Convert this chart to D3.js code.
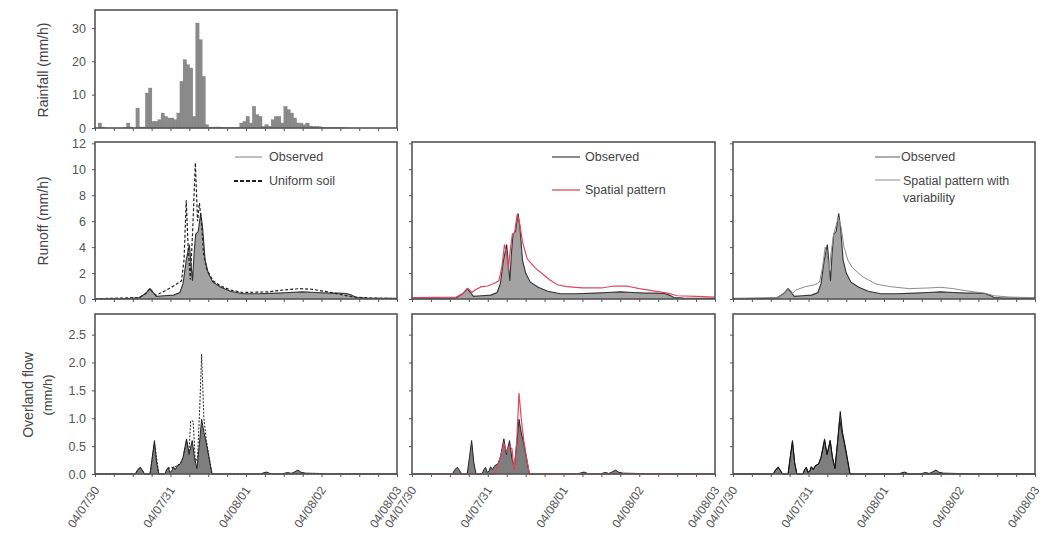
<!DOCTYPE html>
<html><head><meta charset="utf-8">
<script src="https://cdn.jsdelivr.net/npm/d3@7"></script>
<style>body{margin:0;background:#fff}svg{display:block;font-family:"Liberation Sans",Arial,sans-serif}</style>
</head><body><svg id="c" width="1046" height="539"></svg>
<script>
// ---------- DATA ----------
const dateLabels = ["04/07/30","04/07/31","04/08/01","04/08/02","04/08/03"];
const dayHours = [0,24,48,72,96];
const rainTicks = [0,10,20,30];
const runoffTicks = [0,2,4,6,8,10,12];
const overlandTicks = [0,0.5,1.0,1.5,2.0,2.5];

// hourly rainfall (mm/h), hour 0..95
const rainfall = [0,1.5,0.3,0,0,0,0,0,0,0.2,1.5,0.3,0,6,0.3,0.3,10.5,12,2,2,2.5,4.5,3.5,3,3,2.5,4.5,14,20.5,19,18,3.5,31.5,26.5,15.5,1,0.3,0.3,0.3,0.3,0.2,0.1,0.1,0.1,0.1,0.1,1.5,2,3.5,1.5,6.5,4,3.5,0.5,1,0.5,2.5,3.5,3.5,1.5,6.5,5.5,4.5,3,1.5,1.5,1,1.5,0.6,0.5,0.5,0.4,0.2,0.1,0.1,0.1,0.1,0.1,0.1,0.1,0,0,0,0,0,0,0,0,0,0,0,0,0,0,0,0];

// runoff (mm/h) as [hour, value]
const runoffObserved = [[0,0.02],[10,0.03],[14,0.1],[16,0.4],[17.5,0.8],[18.5,0.5],[19.5,0.2],[22,0.25],[25,0.3],[27,0.5],[28,1.2],[29,3.0],[30,4.2],[30.6,2.5],[31,1.4],[31.5,3.5],[32,5.0],[32.8,5.2],[33.6,6.6],[34.2,5.5],[35,3.0],[36,2.0],[37.5,1.3],[40,0.9],[43,0.6],[47,0.4],[52,0.4],[58,0.45],[62,0.5],[66,0.55],[70,0.5],[74,0.45],[77,0.45],[80,0.42],[81.5,0.3],[83,0.12],[86,0.08],[96,0.05]];
const runoffUniform = [[0,0.02],[14,0.1],[16,0.4],[17.5,0.8],[18.5,0.45],[19.5,0.3],[22,0.6],[25,1.0],[27.5,1.4],[28.3,3],[29,7.6],[29.6,4],[30.3,1.5],[31,5],[31.9,10.5],[32.6,6],[33.2,7.4],[33.8,6],[34.5,3.5],[35.5,2.3],[37.5,1.4],[40,1.0],[43,0.7],[47,0.5],[55,0.55],[60,0.7],[65,0.8],[69,0.75],[74,0.55],[78,0.35],[81,0.2],[84,0.12],[90,0.06],[96,0.03]];
const runoffSpatial = [[0,0.1],[14,0.15],[16,0.4],[17.8,0.8],[19,0.5],[20,0.7],[22,0.95],[24,1.0],[26,1.2],[27.5,1.4],[28.5,2.5],[29.3,4.2],[30,3.5],[30.5,2.2],[31,3.5],[31.8,5.0],[32.5,5.1],[33.3,6.5],[34,6.0],[35,4.4],[36.5,3.1],[39,2.4],[41,2.0],[43.5,1.5],[46,1.1],[49,0.95],[54,0.85],[60,0.85],[64,1.0],[68,1.0],[72,0.8],[77,0.6],[81,0.45],[84,0.25],[90,0.2],[96,0.15]];
const runoffVariab = [[0,0.05],[14,0.12],[16,0.4],[17.8,0.8],[19,0.45],[20,0.7],[23,0.95],[26,1.1],[27.5,1.3],[28.5,2.5],[29.3,4.0],[30,3.3],[30.6,2.2],[31.2,3.6],[32,5.0],[33.5,6.3],[34.3,5.6],[35.3,4.0],[36.5,3.0],[38,2.4],[41.3,1.7],[45.5,1.15],[50,0.95],[56,0.8],[62,0.85],[66,0.9],[70,0.8],[75,0.6],[80,0.45],[83,0.25],[88,0.15],[96,0.1]];

// overland flow (mm/h) as [hour, value]
const overlandObserved = [[0,0],[12.8,0],[13.6,0.08],[14.4,0.12],[15.2,0.05],[15.8,0],[17.5,0],[18.2,0.3],[18.9,0.6],[19.6,0.2],[20.3,0],[22.2,0],[22.8,0.08],[23.3,0.12],[23.8,0.03],[24.4,0.05],[24.9,0.13],[25.5,0.08],[26.2,0.15],[27.2,0.18],[28,0.3],[29.1,0.63],[29.9,0.35],[30.9,0.6],[31.6,0.3],[32.4,0.1],[33.2,0.55],[33.9,0.98],[34.6,0.75],[35.4,0.55],[36.2,0.3],[37.2,0],[52.5,0],[53.5,0.02],[54.5,0.035],[55.6,0.01],[56.5,0],[59.8,0],[60.6,0.02],[61.5,0.025],[62.3,0.01],[63.2,0.03],[64.5,0.07],[65.5,0.03],[67,0.015],[71,0.01],[74,0],[96,0]];
const overlandUniform = [[0,0],[12.8,0],[14.4,0.12],[15.8,0],[17.5,0],[18.9,0.55],[20.3,0],[22.2,0],[22.8,0.08],[23.3,0.1],[24.9,0.12],[26.2,0.15],[27.2,0.2],[28,0.3],[29.1,0.6],[29.9,0.4],[30.4,0.95],[31.2,0.95],[31.9,0.2],[32.6,0.3],[33.3,1.2],[33.9,2.15],[34.6,1.0],[35.4,0.6],[36.3,0.3],[37.2,0],[96,0]];
const overlandSpatial = [[0,0],[26.2,0],[27.2,0.15],[28,0.3],[29.1,0.55],[30,0.4],[30.9,0.5],[31.7,0.45],[32.3,0.05],[33.2,0.6],[33.9,1.45],[34.6,1.0],[35.4,0.6],[36.3,0.3],[37.2,0],[96,0]];
const overlandVariab = [[0,0],[12.8,0],[13.6,0.08],[14.4,0.12],[15.2,0.05],[15.8,0],[17.5,0],[18.2,0.3],[18.9,0.58],[19.6,0.2],[20.3,0],[22.2,0],[22.8,0.08],[23.3,0.12],[23.8,0.03],[24.4,0.05],[24.9,0.13],[25.5,0.08],[26.2,0.15],[27.2,0.18],[28,0.3],[29.1,0.6],[29.9,0.35],[30.9,0.6],[31.6,0.3],[32.4,0.1],[33.3,0.6],[34.1,1.12],[34.8,0.75],[35.5,0.55],[36.3,0.3],[37.2,0],[96,0]];

// ---------- LAYOUT ----------
const svg = d3.select("#c");
const cols = [[95,397],[412,715],[733,1035]];
const rows = {rain:[10,128], runoff:[142,299], over:[314,474]};
const tickCol = "#555", frameCol = "#555";

function xScale(c){ return d3.scaleLinear().domain([0,96]).range(cols[c]); }

function frame(c, row, yDom, yTicks, labels, fmt){
  const x = xScale(c);
  const y = d3.scaleLinear().domain(yDom).range([rows[row][1], rows[row][0]]);
  const g = svg.append("g");
  const ya = d3.axisLeft(y).tickValues(yTicks).tickSize(3).tickPadding(6)
     .tickFormat(labels ? (fmt || d3.format("d")) : "");
  const gy = g.append("g").attr("transform",`translate(${cols[c][0]},0)`).call(ya);
  const xa = d3.axisBottom(x).tickValues(d3.range(0,97,6)).tickSize(3).tickFormat("");
  const gx = g.append("g").attr("transform",`translate(0,${rows[row][1]})`).call(xa);
  [gy,gx].forEach(a=>{a.select(".domain").remove();a.selectAll("line").attr("stroke",tickCol);
     a.selectAll("text").attr("fill","#555").style("font-size","12.5px");});
  return {g,x,y};
}
function box(c,row){
  svg.append("rect").attr("x",cols[c][0]).attr("y",rows[row][0])
    .attr("width",cols[c][1]-cols[c][0]).attr("height",rows[row][1]-rows[row][0])
    .attr("fill","none").attr("stroke",frameCol).attr("stroke-width",1.6);
}

// ---------- RAINFALL ----------
{
  const p = frame(0,"rain",[0,35.4],rainTicks,true);
  p.g.selectAll("rect.bar").data(rainfall).join("rect").attr("class","bar")
    .attr("x",(d,i)=>p.x(i)).attr("width",(d,i)=>p.x(i+1)-p.x(i)+0.3)
    .attr("y",d=>p.y(d)).attr("height",d=>p.y(0)-p.y(d))
    .attr("fill","#8a8a8a").attr("stroke","#7a7a7a").attr("stroke-width",0.3);
  box(0,"rain");
}

const line = (p)=>d3.line().x(d=>p.x(d[0])).y(d=>p.y(d[1]));
const area = (p)=>d3.area().x(d=>p.x(d[0])).y0(p.y(0)).y1(d=>p.y(d[1]));

// ---------- RUNOFF ----------
const runSims = [
  {data:runoffUniform, stroke:"#222", w:1.2, dash:"3,2"},
  {data:runoffSpatial, stroke:"#e0475c", w:1.2, dash:null},
  {data:runoffVariab, stroke:"#8c8c8c", w:1, dash:null}
];
runSims.forEach((s,c)=>{
  const p = frame(c,"runoff",[0,12.1],runoffTicks,c===0);
  p.g.append("path").datum(runoffObserved).attr("d",area(p)).attr("fill","#a3a3a3");
  p.g.append("path").datum(runoffObserved).attr("d",line(p)).attr("fill","none").attr("stroke","#333").attr("stroke-width",1.1);
  p.g.append("path").datum(s.data).attr("d",line(p)).attr("fill","none").attr("stroke",s.stroke)
    .attr("stroke-width",s.w).attr("stroke-dasharray",s.dash);
  box(c,"runoff");
});

// legends
function legend(x1,x2,y,stroke,dash,w){
  svg.append("line").attr("x1",x1).attr("x2",x2).attr("y1",y).attr("y2",y)
    .attr("stroke",stroke).attr("stroke-width",w).attr("stroke-dasharray",dash);
}
function ltext(x,y,t){ svg.append("text").attr("x",x).attr("y",y).attr("dy","0.35em")
  .attr("fill","#444").style("font-size","12.5px").text(t); }
legend(235,262,157,"#aaa",null,1.5); ltext(269,157,"Observed");
legend(234,262,181,"#222","4,2",2.2); ltext(269,181,"Uniform soil");
legend(552,580,157,"#666",null,1.5); ltext(585,157,"Observed");
legend(552,580,190,"#e0475c",null,1.3); ltext(585,190,"Spatial pattern");
legend(875,900,157,"#777",null,1.2); ltext(901,157,"Observed");
legend(875,900,180,"#8c8c8c",null,1); ltext(903,181,"Spatial pattern with"); ltext(903,198,"variability");

// ---------- OVERLAND ----------
const overSims = [
  {data:overlandUniform, stroke:"#222", w:1, dash:"2,1.5"},
  {data:overlandSpatial, stroke:"#e0475c", w:1.2, dash:null},
  {data:overlandVariab, stroke:"#111", w:1, dash:null}
];
overSims.forEach((s,c)=>{
  const p = frame(c,"over",[0,2.87],overlandTicks,c===0,d3.format(".1f"));
  if(c===2){
    p.g.append("path").datum(s.data).attr("d",area(p)).attr("fill","#7e7e7e");
  }
  p.g.append("path").datum(overlandObserved).attr("d",area(p)).attr("fill","#7e7e7e");
  p.g.append("path").datum(overlandObserved).attr("d",line(p)).attr("fill","none").attr("stroke","#222").attr("stroke-width",1);
  p.g.append("path").datum(s.data).attr("d",line(p)).attr("fill","none").attr("stroke",s.stroke)
    .attr("stroke-width",s.w).attr("stroke-dasharray",s.dash);
  box(c,"over");
  p.g.selectAll("text.date").data(dayHours).join("text").attr("class","date")
    .attr("transform",d=>`translate(${p.x(d)+5},${rows.over[1]+16}) rotate(-56)`)
    .attr("text-anchor","end").attr("fill","#555").style("font-size","12px")
    .text((d,i)=>dateLabels[i]);
});

// ---------- AXIS TITLES ----------
function ytitle(x,y,t,size){ svg.append("text").attr("transform",`translate(${x},${y}) rotate(-90)`)
  .attr("text-anchor","middle").attr("fill","#444").style("font-size",size+"px").text(t); }
ytitle(48,70,"Rainfall (mm/h)",14);
ytitle(48,221,"Runoff (mm/h)",14);
ytitle(33,395,"Overland flow",14);
ytitle(52,395,"(mm/h)",13);
</script></body></html>
